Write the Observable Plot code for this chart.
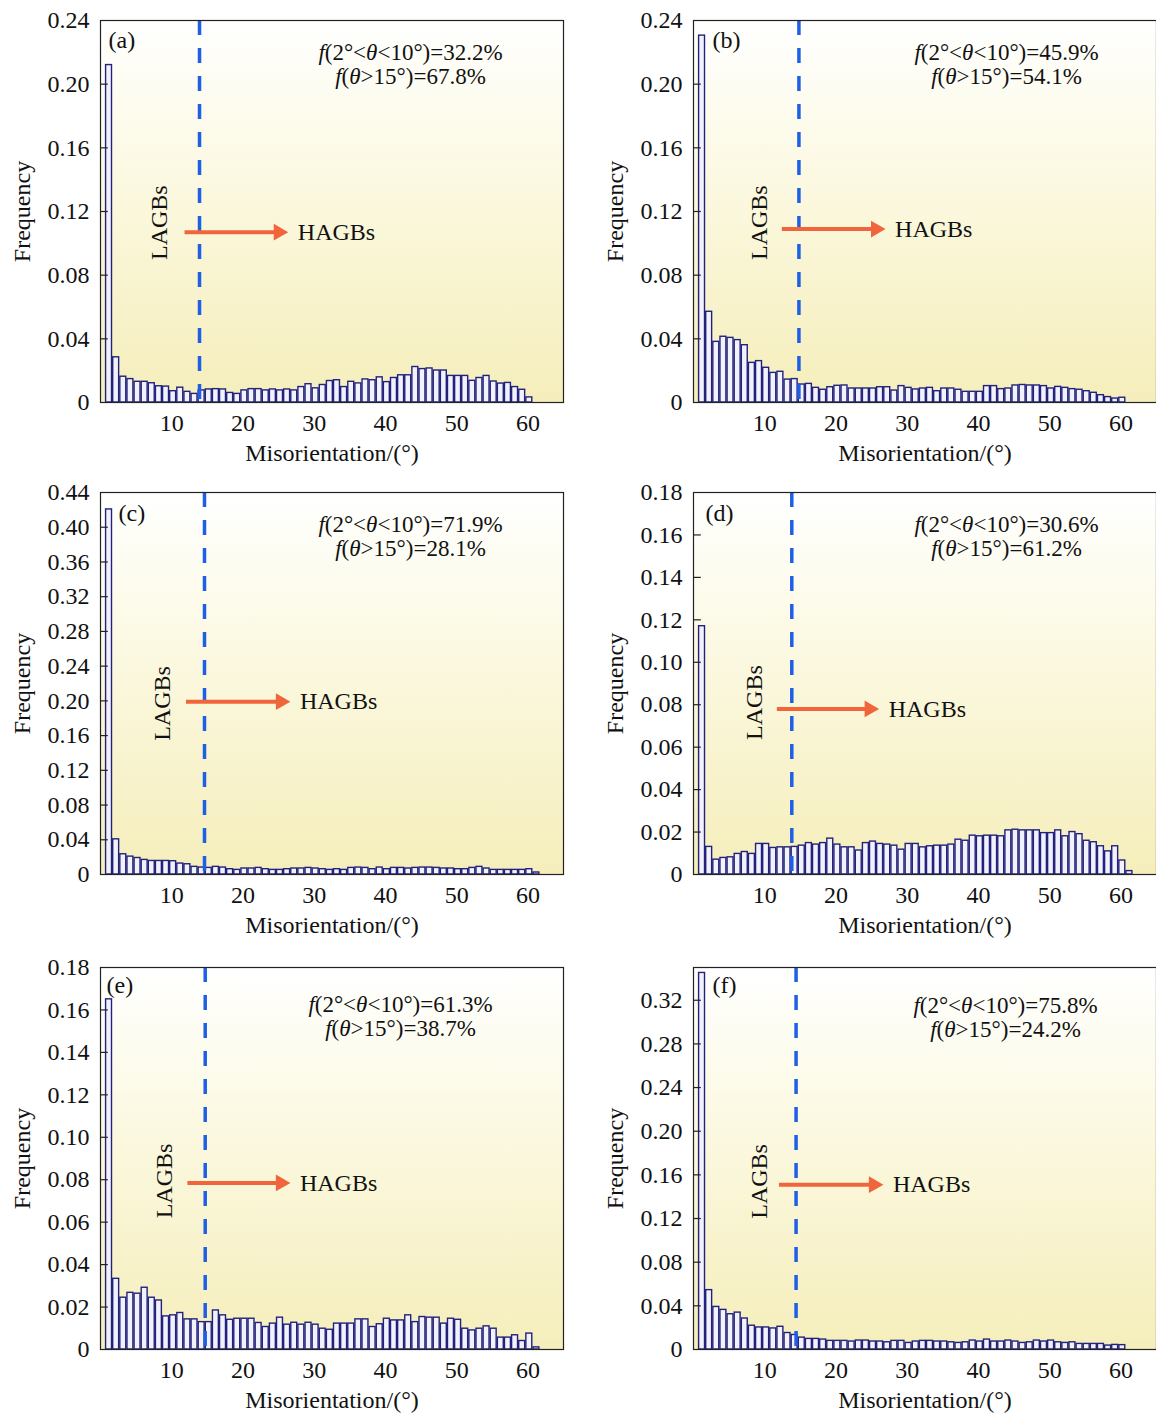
<!DOCTYPE html>
<html><head><meta charset="utf-8">
<script src="https://cdn.jsdelivr.net/npm/d3@7"></script>
<script src="https://cdn.jsdelivr.net/npm/@observablehq/plot@0.6"></script>
<style>
html,body{margin:0;padding:0;background:#fff;}
#fig{position:relative;width:1156px;height:1416px;overflow:hidden;background:#fff;}
.panel{position:absolute;}
</style></head><body><div id="fig"></div>
<script>
// ---- data: frequency per 1° misorientation bin (bin 1, 2, 3, ...) ----
const freqA = [0.212,0.0284,0.0162,0.0147,0.013,0.013,0.0121,0.0102,0.0100,0.0071,
  0.0093,0.0067,0.0054,0.0076,0.0082,0.0084,0.0082,0.006,0.0054,0.0076,
  0.0084,0.0084,0.0076,0.0082,0.0076,0.0082,0.0076,0.0097,0.0115,0.0089,
  0.011,0.0135,0.014,0.0097,0.013,0.012,0.0145,0.014,0.0158,0.0128,
  0.0154,0.0171,0.0171,0.0223,0.021,0.0214,0.0201,0.0201,0.0167,0.0167,
  0.0167,0.0136,0.0154,0.0167,0.0132,0.0119,0.0123,0.0097,0.008,0.0032];
const freqB = [0.2305,0.057,0.0381,0.0413,0.0406,0.0392,0.036,0.0249,0.026,0.0218,
  0.0186,0.0193,0.0144,0.0147,0.0113,0.0117,0.0092,0.008,0.0096,0.0105,
  0.0107,0.0088,0.0088,0.0088,0.0088,0.0096,0.0096,0.0075,0.0103,0.0092,
  0.0082,0.0088,0.0092,0.0071,0.0088,0.0088,0.008,0.0067,0.0067,0.0067,
  0.0103,0.0103,0.0084,0.0088,0.0107,0.011,0.0107,0.0107,0.0103,0.0088,
  0.0098,0.0092,0.0084,0.008,0.0071,0.0061,0.0046,0.0034,0.0025,0.003];
const freqC = [0.4205,0.0405,0.0233,0.0206,0.019,0.0168,0.0156,0.0156,0.0156,0.0153,
  0.0126,0.0118,0.0088,0.008,0.0076,0.0088,0.008,0.0061,0.0053,0.0069,
  0.0069,0.0076,0.0061,0.0053,0.0053,0.0061,0.0069,0.0069,0.0076,0.0069,
  0.0061,0.0053,0.0061,0.0053,0.0076,0.008,0.0076,0.0061,0.008,0.0061,
  0.0076,0.0076,0.0069,0.0076,0.008,0.008,0.0076,0.0069,0.0069,0.0061,
  0.0061,0.0076,0.0088,0.0069,0.0053,0.0053,0.0053,0.0053,0.0053,0.0061,0.0023];
const freqD = [0.117,0.013,0.007,0.0078,0.0081,0.0097,0.0106,0.0097,0.0144,0.0144,
  0.0125,0.0128,0.0128,0.013,0.0136,0.0148,0.0141,0.0148,0.0169,0.0141,
  0.0128,0.0128,0.0113,0.0148,0.0155,0.0144,0.0141,0.0136,0.0117,0.0144,
  0.0144,0.0128,0.0133,0.0136,0.0136,0.0141,0.0164,0.0159,0.0183,0.018,
  0.0183,0.0183,0.018,0.0208,0.0211,0.0208,0.0208,0.0208,0.0195,0.0195,
  0.0208,0.018,0.02,0.019,0.0159,0.0152,0.0133,0.0109,0.0133,0.0066,0.0016];
const freqE = [0.165,0.0333,0.0244,0.0267,0.0263,0.0291,0.0244,0.0231,0.0156,0.0161,
  0.0172,0.0142,0.0142,0.0129,0.0129,0.0184,0.0161,0.014,0.0145,0.0145,
  0.0145,0.0125,0.0106,0.0122,0.015,0.0117,0.0126,0.0117,0.0126,0.0117,
  0.0098,0.0093,0.0122,0.0122,0.0122,0.0142,0.0142,0.0106,0.0119,0.0145,
  0.0137,0.0137,0.0161,0.0129,0.0153,0.015,0.015,0.0122,0.0145,0.014,
  0.0098,0.009,0.0098,0.0109,0.0098,0.0056,0.0056,0.0067,0.004,0.0075,0.001];
const freqF = [0.345,0.0544,0.039,0.0363,0.0323,0.0338,0.0284,0.0218,0.0202,0.0202,
  0.0193,0.0208,0.0151,0.0133,0.0109,0.0097,0.0097,0.0091,0.0079,0.0079,
  0.0079,0.0073,0.0082,0.0082,0.0073,0.0073,0.0066,0.0079,0.0079,0.006,
  0.0073,0.0079,0.0079,0.0073,0.0073,0.0066,0.006,0.0066,0.0082,0.0073,
  0.0091,0.0073,0.0073,0.0082,0.0073,0.006,0.0066,0.0082,0.0073,0.0082,
  0.0066,0.006,0.0066,0.0051,0.0051,0.0051,0.0051,0.0036,0.0042,0.004];

const panelLabels = ["(a)","(b)","(c)","(d)","(e)","(f)"];
const annLow  = ["f(2°<θ<10°)=32.2%","f(2°<θ<10°)=45.9%","f(2°<θ<10°)=71.9%","f(2°<θ<10°)=30.6%","f(2°<θ<10°)=61.3%","f(2°<θ<10°)=75.8%"];
const annHigh = ["f(θ>15°)=67.8%","f(θ>15°)=54.1%","f(θ>15°)=28.1%","f(θ>15°)=61.2%","f(θ>15°)=38.7%","f(θ>15°)=24.2%"];
const xTicks = [10,20,30,40,50,60];
const yTicks024 = [0,0.04,0.08,0.12,0.16,0.20,0.24];
const yTicks044 = [0,0.04,0.08,0.12,0.16,0.20,0.24,0.28,0.32,0.36,0.40,0.44];
const yTicks018 = [0,0.02,0.04,0.06,0.08,0.10,0.12,0.14,0.16,0.18];
const yTicks032 = [0,0.04,0.08,0.12,0.16,0.20,0.24,0.28,0.32];
const yMax = [0.24,0.24,0.44,0.18,0.18,0.35];
const boundaryDeg = [13.9,14.8,14.6,13.8,14.7,14.4];   // dashed LAGB/HAGB boundary
const arrowFrom = [11.8,12.4,12.0,11.7,12.2,12.0];
const arrowTo   = [26.3,26.9,26.6,26.0,26.6,26.6];
const arrowAt   = [0.107,0.109,0.199,0.078,0.0785,0.151];
const lagbAtX   = [8.3,9.2,8.7,8.5,9.0,9.2];
const lagbAtY   = [0.113,0.113,0.197,0.081,0.0794,0.154];

// ---- layout (positions/styles) ----
const series = [freqA,freqB,freqC,freqD,freqE,freqF];
const yTickSets = [yTicks024,yTicks024,yTicks044,yTicks018,yTicks018,yTicks032];
const layout = [
  {left:0,   top:0,   width:578, labDx:8,  labDy:20, annDx:-153, annDy:32},
  {left:593, top:0,   width:563, labDx:19, labDy:20, annDx:-150, annDy:32},
  {left:0,   top:472, width:578, labDx:18, labDy:21, annDx:-153, annDy:32},
  {left:593, top:472, width:563, labDx:12, labDy:21, annDx:-150, annDy:32},
  {left:0,   top:947, width:578, labDx:6,  labDy:18, annDx:-163, annDy:37},
  {left:593, top:947, width:563, labDx:19, labDy:18, annDx:-151, annDy:38}
];
const FONT = '"Liberation Serif","Times New Roman",serif';
const ORANGE = "#f0653c";
const HEAD_DEG = 1.3; // arrow head length in degrees

function italicize(svg) {
  d3.select(svg).selectAll("text").each(function() {
    const t = this.textContent;
    if (!t.startsWith("f(")) return;
    const sel = d3.select(this);
    sel.text(null);
    let buf = "";
    for (const ch of t) {
      if (ch === "f" || ch === "θ") {
        if (buf) sel.append("tspan").text(buf);
        buf = "";
        sel.append("tspan").attr("font-style","italic").text(ch);
      } else buf += ch;
    }
    if (buf) sel.append("tspan").text(buf);
  });
}

const fig = document.getElementById("fig");
series.forEach((vals, i) => {
  const L = layout[i];
  const gid = "bg" + i;
  const bars = vals.map((v, k) => ({n: k + 1, v}));
  const ticks = yTickSets[i];
  const top = yMax[i];
  const arrowRow = [{x1: arrowFrom[i], x2: arrowTo[i], y: arrowAt[i]}];
  const plot = Plot.plot({
    width: L.width, height: 470,
    marginLeft: 100, marginRight: L.width - 100 - 463, marginTop: 20, marginBottom: 68,
    style: {fontFamily: FONT, fontSize: "24px", color: "#111", background: "transparent", overflow: "visible"},
    x: {domain: [0, 65]},
    y: {domain: [0, top]},
    marks: [
      () => {
        const defs = d3.create("svg:defs");
        const g = defs.append("linearGradient").attr("id", gid)
          .attr("x1", 0).attr("y1", 0).attr("x2", 0).attr("y2", 1);
        g.append("stop").attr("offset", "0%").attr("stop-color", "#ffffff");
        g.append("stop").attr("offset", "35%").attr("stop-color", "#fcfae6");
        g.append("stop").attr("offset", "100%").attr("stop-color", "#f5eebb");
        return defs.node();
      },
      Plot.frame({fill: `url(#${gid})`, stroke: "none"}),
      Plot.rectY(bars, {x1: d => d.n - 0.3, x2: d => d.n + 0.7, y: "v",
        insetLeft: 0.6, insetRight: 0.6, fill: "#f2f2ff", stroke: "#22227a", strokeWidth: 1.4}),
      Plot.ruleX([boundaryDeg[i]], {stroke: "#1e5fe6", strokeWidth: 3.5, strokeDasharray: "15,13"}),
      Plot.ruleY(ticks.filter(t => t > 0 && t < top), {y: d => d, x1: 0, x2: 1.1, stroke: "#222", strokeWidth: 1.2}),
      Plot.link(arrowRow, {x1: "x1", x2: d => d.x2 - HEAD_DEG, y1: "y", y2: "y", stroke: ORANGE, strokeWidth: 4}),
      Plot.dot(arrowRow, {x: d => d.x2 - HEAD_DEG, y: "y", symbol: "triangle2", r: 8, rotate: 90, fill: ORANGE, stroke: "none"}),
      Plot.text(["HAGBs"], {x: () => arrowTo[i] + 1.4, y: () => arrowAt[i], text: d => d, textAnchor: "start", lineAnchor: "middle"}),
      Plot.text(["LAGBs"], {x: () => lagbAtX[i], y: () => lagbAtY[i], text: d => d, rotate: -90, textAnchor: "middle", lineAnchor: "middle"}),
      Plot.text([panelLabels[i]], {frameAnchor: "top-left", dx: L.labDx, dy: L.labDy, text: d => d, textAnchor: "start", lineAnchor: "middle"}),
      Plot.text([annLow[i]], {frameAnchor: "top-right", dx: L.annDx, dy: L.annDy, text: d => d, textAnchor: "middle", lineAnchor: "middle", fontSize: 23}),
      Plot.text([annHigh[i]], {frameAnchor: "top-right", dx: L.annDx, dy: L.annDy + 24, text: d => d, textAnchor: "middle", lineAnchor: "middle", fontSize: 23}),
      Plot.axisX({ticks: xTicks, tickSize: 0, tickPadding: 11, label: null}),
      Plot.axisY({ticks: ticks, tickSize: 0, tickPadding: 11, label: null,
        tickFormat: d => d === 0 ? "0" : d.toFixed(2)}),
      Plot.text(["Misorientation/(°)"], {frameAnchor: "bottom", dy: 51, text: d => d, textAnchor: "middle", lineAnchor: "middle"}),
      Plot.text(["Frequency"], {frameAnchor: "left", dx: -78, rotate: -90, text: d => d, textAnchor: "middle", lineAnchor: "middle"}),
      Plot.frame({stroke: "#222", strokeWidth: 1.2})
    ]
  });
  italicize(plot);
  const wrap = document.createElement("div");
  wrap.className = "panel";
  wrap.style.left = L.left + "px";
  wrap.style.top = L.top + "px";
  wrap.appendChild(plot);
  fig.appendChild(wrap);
});
</script></body></html>
